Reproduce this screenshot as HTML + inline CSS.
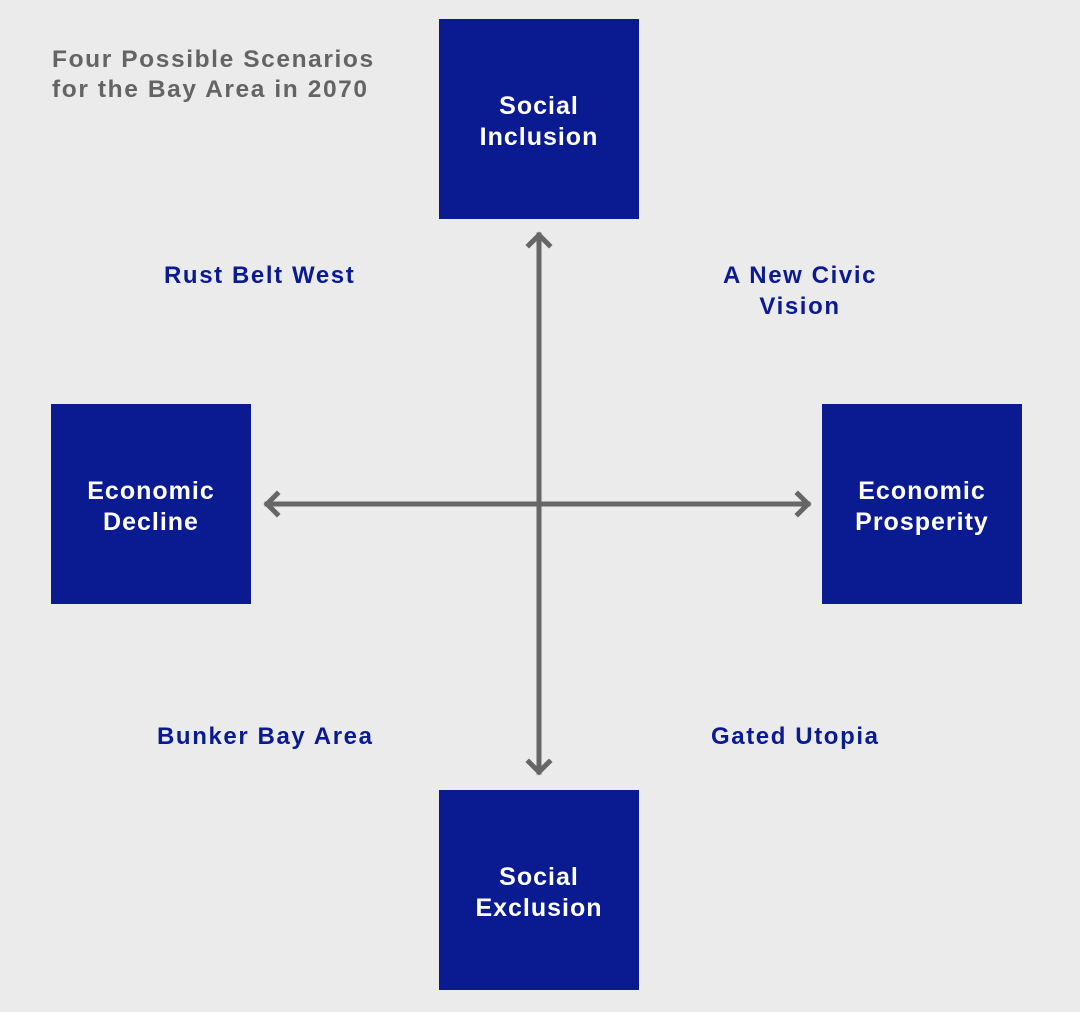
<!DOCTYPE html>
<html><head><style>
body{margin:0;width:1080px;height:1012px;background:#ebebeb;position:relative;overflow:hidden;font-family:"Liberation Sans",sans-serif;font-weight:bold}
.box{position:absolute;width:200px;height:200px;background:#0a1a91;color:#fff;display:flex;align-items:center;justify-content:center;text-align:center;font-size:25px;line-height:31px;letter-spacing:1px;box-sizing:border-box;padding-top:6px}
.lbl{position:absolute;color:#0a1a91;font-size:24px;line-height:31px;text-align:center;white-space:nowrap;letter-spacing:1.6px}
.t{position:absolute;left:52px;top:45px;color:#646464;font-size:24.5px;line-height:30px;letter-spacing:1.6px;white-space:nowrap}
svg{position:absolute;left:0;top:0}
</style></head><body>
<div class="t">Four Possible Scenarios<br>for the Bay Area in 2070</div>
<svg width="1080" height="1012">
<g stroke="#666" stroke-width="5" fill="none" stroke-linecap="square">
<line x1="539" y1="235" x2="539" y2="772"/>
<line x1="267" y1="504" x2="808" y2="504"/>
<polyline points="529,245 539,235 549,245"/>
<polyline points="529,762 539,772 549,762"/>
<polyline points="277,494 267,504 277,514"/>
<polyline points="798,494 808,504 798,514"/>
</g></svg>
<div class="box" style="left:439px;top:19px">Social<br>Inclusion</div>
<div class="box" style="left:51px;top:404px">Economic<br>Decline</div>
<div class="box" style="left:822px;top:404px">Economic<br>Prosperity</div>
<div class="box" style="left:439px;top:790px">Social<br>Exclusion</div>
<div class="lbl" style="left:164px;top:260px">Rust Belt West</div>
<div class="lbl" style="left:680px;top:260px;width:240px">A New Civic<br>Vision</div>
<div class="lbl" style="left:157px;top:721px">Bunker Bay Area</div>
<div class="lbl" style="left:711px;top:721px">Gated Utopia</div>
</body></html>
